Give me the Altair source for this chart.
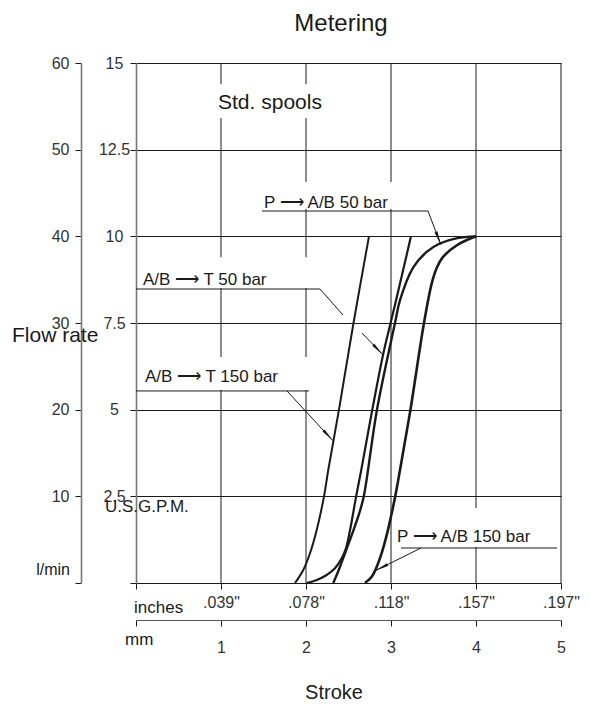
import json
import math
import altair as alt
import pandas as pd

# ---------------- data (stroke in mm, flow in U.S. GPM) ----------------
curve_names = ["A/B ⟶ T 150 bar", "A/B ⟶ T 50 bar", "P ⟶ A/B 50 bar", "P ⟶ A/B 150 bar"]

c1_mm = [1.871, 1.968, 2.047, 2.126, 2.212, 2.262, 2.388, 2.559, 2.741]
c1_gpm = [0.00, 0.375, 0.857, 1.53, 2.50, 3.26, 5.00, 7.50, 10.00]

c2_mm = [2.008, 2.126, 2.243, 2.341, 2.420, 2.470, 2.520, 2.590, 2.650, 2.780, 2.906, 2.995, 3.060, 3.235]
c2_gpm = [0.00, 0.087, 0.231, 0.424, 0.712, 1.00, 1.55, 2.50, 3.26, 5.00, 6.58, 7.50, 8.16, 10.00]

c3_mm = [2.321, 2.361, 2.400, 2.459, 2.545, 2.625, 2.680, 2.835, 3.047, 3.106, 3.26, 3.42, 3.58, 3.78, 4.00]
c3_gpm = [0.00, 0.23, 0.47, 0.857, 1.43, 2.00, 2.50, 5.00, 7.50, 8.16, 9.10, 9.55, 9.80, 9.95, 10.00]

c4_mm = [2.694, 2.773, 2.824, 2.890, 2.949, 3.008, 3.050, 3.106, 3.229, 3.388, 3.48, 3.54, 3.61, 3.78, 4.00]
c4_gpm = [0.00, 0.18, 0.42, 0.86, 1.38, 2.01, 2.50, 3.26, 5.00, 7.50, 8.65, 9.10, 9.40, 9.75, 10.00]

gpm_ticks = [0, 2.5, 5, 7.5, 10, 12.5, 15]
lpm_ticks = [0, 10, 20, 30, 40, 50, 60]
mm_ticks = [0, 1, 2, 3, 4, 5]
mm_labels = ["", "1", "2", "3", "4", "5"]
inch_labels = ["", '.039"', '.078"', '.118"', '.157"', '.197"']

# annotation labels: text, x (mm), y (GPM) of baseline start
label_text = ["Std. spools", "P ⟶ A/B 50 bar", "A/B ⟶ T 50 bar", "A/B ⟶ T 150 bar", "P ⟶ A/B 150 bar"]
label_x = [0.965, 1.506, 0.082, 0.106, 3.071]
label_y = [13.67, 10.82, 8.60, 5.80, 1.18]
label_size = [21, 17, 17, 17, 17]

# white boxes behind labels (hide the grid there)
mask_x = [0.918, 1.435, 0.035, 0.035, 3.059]
mask_x2 = [2.235, 3.059, 2.224, 2.070, 4.810]
mask_y = [14.39, 11.57, 9.40, 6.52, 2.16]
mask_y2 = [13.41, 10.79, 8.51, 5.57, 1.04]

# leader lines (underlines + pointers)
lead_x = [1.482, 3.435, 0.000, 2.165, 2.659, 0.000, 1.776, 3.118, 3.353]
lead_y = [10.73, 10.73, 8.48, 8.48, 7.21, 5.54, 5.54, 1.01, 1.01]
lead_x2 = [3.435, 3.588, 2.165, 2.435, 2.906, 2.035, 2.318, 4.953, 2.812]
lead_y2 = [10.73, 9.75, 8.48, 7.73, 6.58, 5.54, 4.10, 1.01, 0.35]
arrow_of = [1, 4, 6, 8]  # leader segments that end in an arrowhead

# ---------------- layout ----------------
W, H = 425, 520
PAD_L, PAD_T = 136, 63
PX_MM = W / 5.0
PX_GPM = H / 15.0
FONT = "Liberation Sans"
INK = "#1a1a1a"
SOFT = "#333333"

rows = []
for name, xs_, ys_ in zip(curve_names, [c1_mm, c2_mm, c3_mm, c4_mm], [c1_gpm, c2_gpm, c3_gpm, c4_gpm]):
    for i, (a, b) in enumerate(zip(xs_, ys_)):
        rows.append({"curve": name, "mm": a, "gpm": b, "o": i})
curves_df = pd.DataFrame(rows)

labels_df = pd.DataFrame({"text": label_text, "mm": label_x, "gpm": label_y, "size": label_size})
masks_df = pd.DataFrame({"mm": mask_x, "mm2": mask_x2, "gpm": mask_y, "gpm2": mask_y2})
leads_df = pd.DataFrame({"mm": lead_x, "gpm": lead_y, "mm2": lead_x2, "gpm2": lead_y2})

arr = []
for k in arrow_of:
    dx = (lead_x2[k] - lead_x[k]) * PX_MM
    dy = -(lead_y2[k] - lead_y[k]) * PX_GPM
    ang = math.degrees(math.atan2(dx, -dy)) % 360
    arr.append({"mm": lead_x2[k], "gpm": lead_y2[k], "angle": ang})
arrows_df = pd.DataFrame(arr)
vgrid_df = pd.DataFrame({"mm": mm_ticks[1:]})

xs = alt.Scale(domain=[0, 5], nice=False, zero=False)
ys = alt.Scale(domain=[0, 15], nice=False, zero=False)

x_axis = alt.Axis(
    values=mm_ticks, labelExpr=f"{json.dumps(inch_labels)}[round(datum.value)]",
    tickSize=6, domain=False, grid=False, labelPadding=5, labelFontSize=16,
    labelFont=FONT, labelColor=SOFT, tickColor=INK, title=None,
    labelFlush=False, labelOverlap=False,
)
y_axis = alt.Axis(
    values=gpm_ticks,
    labelExpr="datum.value == 0 ? '' : format(datum.value, '.1~f')",
    tickSize=6, grid=True, gridColor=INK, gridWidth=1, domainColor="#777",
    domainWidth=1.6, labelAlign="center", labelBaseline="middle", labelPadding=16,
    labelFontSize=16, labelFont=FONT, labelColor=SOFT, tickColor=INK, title=None,
    labelFlush=False, labelOverlap=False,
)


def X(f="mm"):
    return alt.X(f"{f}:Q", scale=xs, axis=x_axis)


def Y(f="gpm"):
    return alt.Y(f"{f}:Q", scale=ys, axis=y_axis)


vgrid = alt.Chart(vgrid_df).mark_rule(color=INK, strokeWidth=1).encode(x=X())

masks = alt.Chart(masks_df).mark_rect(fill="white", strokeWidth=0).encode(
    x=X(), x2="mm2:Q", y=Y(), y2="gpm2:Q"
)

curves = alt.Chart(curves_df).mark_line(interpolate="catmull-rom", color=INK).encode(
    x=X(), y=Y(), detail="curve:N", order="o:Q",
    strokeWidth=alt.StrokeWidth("curve:N", scale=alt.Scale(domain=curve_names, range=[2.0, 2.6, 1.9, 2.6]), legend=None),
)

leads = alt.Chart(leads_df).mark_rule(color=INK, strokeWidth=1).encode(
    x=X(), y=Y(), x2="mm2:Q", y2="gpm2:Q"
)

arrows = alt.Chart(arrows_df).mark_point(
    shape="M0,0L0.22,2L-0.22,2Z", filled=True, size=196, color=INK, opacity=1, strokeWidth=0
).encode(x=X(), y=Y(), angle=alt.Angle("angle:Q", scale=None))

labels = alt.Chart(labels_df).mark_text(
    align="left", baseline="alphabetic", font=FONT, color=INK
).encode(x=X(), y=Y(), text="text:N", size=alt.Size("size:Q", scale=None, legend=None))

captions = [
    ("Metering", 341, 31, 24, "center"),
    ("Stroke", 334, 699, 20, "center"),
    ("Flow rate", 12, 342, 21, "left"),
    ("U.S.G.P.M.", 105, 512, 17, "left"),
    ("l/min", 70, 575, 16, "right"),
    ("inches", 134, 613, 17, "left"),
    ("mm", 125, 645, 17, "left"),
]
cap_layers = []
for t, px, py, fs, al in captions:
    cap_layers.append(
        alt.Chart(pd.DataFrame({"t": [t]})).mark_text(
            align=al, baseline="alphabetic", font=FONT, fontSize=fs, color=INK
        ).encode(x=alt.value(px - PAD_L), y=alt.value(py - PAD_T), text="t:N")
    )

main = alt.layer(vgrid, masks, curves, leads, arrows, labels, *cap_layers)

lpm_layer = alt.Chart(pd.DataFrame({"lpm": lpm_ticks})).mark_point(opacity=0).encode(
    y=alt.Y("lpm:Q", scale=alt.Scale(domain=[0, 60], nice=False, zero=False),
            axis=alt.Axis(orient="left", offset=55, values=lpm_ticks,
                          labelExpr="datum.value == 0 ? '' : datum.label",
                          tickSize=6, domainColor="#777", domainWidth=1.6, grid=False,
                          labelAlign="right", labelBaseline="middle", labelPadding=6,
                          labelFontSize=16, labelFont=FONT, labelColor=SOFT, tickColor=INK,
                          title=None, labelFlush=False, labelOverlap=False)),
    x=alt.value(0),
)

mm_layer = alt.Chart(pd.DataFrame({"mmv": mm_ticks})).mark_point(opacity=0).encode(
    x=alt.X("mmv:Q", scale=alt.Scale(domain=[0, 5], nice=False, zero=False),
            axis=alt.Axis(orient="bottom", offset=37, values=mm_ticks,
                          labelExpr=f"{json.dumps(mm_labels)}[round(datum.value)]",
                          tickSize=6, domainColor="#555", domainWidth=1.2, grid=False,
                          labelPadding=13, labelFontSize=16, labelFont=FONT, labelColor=SOFT,
                          tickColor=INK, title=None, labelFlush=False, labelOverlap=False)),
    y=alt.value(0),
)

chart = (
    alt.layer(main, lpm_layer, mm_layer)
    .resolve_scale(x="independent", y="independent")
    .properties(
        width=W, height=H,
        autosize=alt.AutoSizeParams(type="none"),
        padding={"left": PAD_L, "top": PAD_T, "right": 590 - PAD_L - W, "bottom": 705 - PAD_T - H},
        background="white",
    )
    .configure_view(stroke=None)
)

chart.save("out.html", embed_options={"renderer": "svg", "actions": False})
